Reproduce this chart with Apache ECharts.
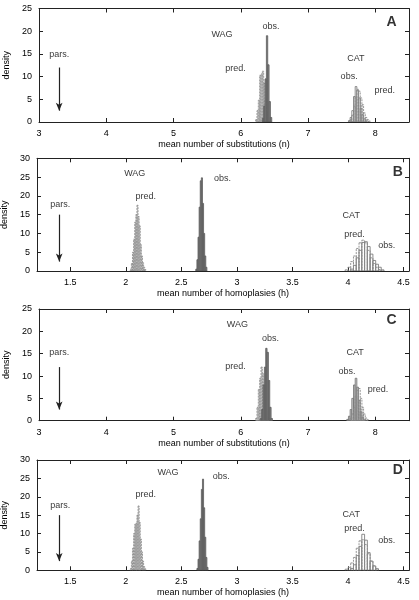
<!DOCTYPE html>
<html>
<head>
<meta charset="utf-8">
<script src="https://cdn.jsdelivr.net/npm/echarts@6/dist/echarts.min.js"></script>
<style>
html,body{margin:0;padding:0;background:#fff;}
#chart{width:419px;height:600px;}
</style>
</head>
<body>
<div id="chart"></div>
<script>
// ---------- Data ----------
var subsTicks = [3, 4, 5, 6, 7, 8];
var homTicks = [1.5, 2, 2.5, 3, 3.5, 4, 4.5];

// Panel A (substitutions)
var A_binW = 0.02, A_catBinW = 0.025;
var A_wagPred = [[6.22,0.5],[6.24,2.5],[6.26,4.8],[6.28,10.3],[6.30,10.6],[6.32,11.2],[6.34,8.5],[6.36,5],[6.38,2.2],[6.40,0.6]];
var A_wagObs = [[6.32,0.8],[6.34,3.5],[6.36,9.5],[6.38,19],[6.40,12.6],[6.42,4.5],[6.44,1]];
var A_catObs = [[7.600,0.3],[7.625,1],[7.650,2.5],[7.675,5.6],[7.700,7.8],[7.725,7],[7.750,5.3],[7.775,3],[7.800,1.6],[7.825,0.7],[7.850,0.2]];
var A_catPred = [[7.625,0.5],[7.650,1.5],[7.675,3.5],[7.700,5.5],[7.725,7.2],[7.750,6.8],[7.775,5.3],[7.800,3.8],[7.825,2],[7.850,1],[7.875,0.5],[7.900,0.2]];
var A_labels = [[5.72,19.2,'WAG'],[6.45,21,'obs.'],[5.92,11.8,'pred.'],[3.3,14.9,'pars.'],[7.71,14,'CAT'],[7.61,10,'obs.'],[8.14,6.9,'pred.']];
var A_pars = [3.3, 12, 2.5];

// Panel B (homoplasies)
var B_binW = 0.01, B_catBinW = 0.025;
var B_wagPred = [[2.04,0.5],[2.05,2],[2.06,5],[2.07,8.5],[2.08,13],[2.09,15],[2.10,17.5],[2.11,14.5],[2.12,12],[2.13,7],[2.14,4],[2.15,2.2],[2.16,1],[2.17,0.4]];
var B_wagObs = [[2.63,0.5],[2.64,3],[2.65,9],[2.66,17],[2.67,24],[2.68,24.8],[2.69,18],[2.70,10],[2.71,4],[2.72,1]];
var B_catPred = [[3.975,0.3],[4.000,1],[4.025,2.5],[4.050,4],[4.075,6],[4.100,7.5],[4.125,8.2],[4.150,7.5],[4.175,5.5],[4.200,3.5],[4.225,2],[4.250,1],[4.275,0.4]];
var B_catObs = [[4.025,0.5],[4.050,1.5],[4.075,3.5],[4.100,5.5],[4.125,7.6],[4.150,7.8],[4.175,6.5],[4.200,4.5],[4.225,2.8],[4.250,1.8],[4.275,1],[4.300,0.3]];
var B_labels = [[2.08,26,'WAG'],[2.87,24.7,'obs.'],[2.18,19.8,'pred.'],[1.41,17.6,'pars.'],[4.03,14.9,'CAT'],[4.06,9.8,'pred.'],[4.35,6.9,'obs.']];
var B_pars = [1.4, 15, 2.5];

// Panel C (substitutions)
var C_binW = 0.02, C_catBinW = 0.025;
var C_wagPred = [[6.22,0.5],[6.24,3],[6.26,7],[6.28,9.5],[6.30,12],[6.32,10.5],[6.34,8],[6.36,4.5],[6.38,2],[6.40,0.6]];
var C_wagObs = [[6.29,0.5],[6.31,2.5],[6.33,8],[6.35,12],[6.37,16.2],[6.39,15.3],[6.41,9],[6.43,3],[6.45,0.5]];
var C_catObs = [[7.575,0.3],[7.600,1],[7.625,2.5],[7.650,5],[7.675,8],[7.700,9.5],[7.725,7.5],[7.750,4.5],[7.775,2],[7.800,0.8],[7.825,0.2]];
var C_catPred = [[7.625,0.5],[7.650,1.5],[7.675,3],[7.700,5.5],[7.725,6.8],[7.750,7.2],[7.775,5],[7.800,3],[7.825,1.5],[7.850,0.6],[7.875,0.2]];
var C_labels = [[5.95,21.6,'WAG'],[6.44,18.3,'obs.'],[5.92,12.2,'pred.'],[3.3,15.3,'pars.'],[7.7,15.3,'CAT'],[7.58,11.1,'obs.'],[8.04,7,'pred.']];
var C_pars = [3.3, 12, 2.5];

// Panel D (homoplasies)
var D_binW = 0.01, D_catBinW = 0.025;
var D_wagPred = [[2.04,0.5],[2.05,2.5],[2.06,6],[2.07,10],[2.08,12.5],[2.09,12.8],[2.10,15],[2.11,17.5],[2.12,13],[2.13,8.5],[2.14,5],[2.15,2.5],[2.16,1],[2.17,0.4]];
var D_wagObs = [[2.64,0.5],[2.65,3],[2.66,8],[2.67,14],[2.68,22],[2.69,24.8],[2.70,17],[2.71,9],[2.72,3.5],[2.73,0.8]];
var D_catPred = [[3.975,0.3],[4.000,0.8],[4.025,2],[4.050,3.5],[4.075,6],[4.100,8],[4.125,8.3],[4.150,7],[4.175,4.5],[4.200,2.5],[4.225,1.2],[4.250,0.5]];
var D_catObs = [[4.025,0.5],[4.050,1.5],[4.075,4],[4.100,6.5],[4.125,9.8],[4.150,8.2],[4.175,4.8],[4.200,2.5],[4.225,1.2],[4.250,0.4]];
var D_labels = [[2.38,26.6,'WAG'],[2.86,25.5,'obs.'],[2.18,20.5,'pred.'],[1.41,17.6,'pars.'],[4.03,15.3,'CAT'],[4.06,11.4,'pred.'],[4.35,8.2,'obs.']];
var D_pars = [1.4, 15, 2.5];

var panelLetters = ['A','B','C','D'];

// ---------- Layout / styles ----------
var FONT = 'Liberation Sans, Arial, Helvetica, sans-serif';
var grids = [
  {left:39, right:10, top:8.5, height:113.5, outerBoundsMode:'none', containLabel:false},
  {left:37, right:10, top:158.3, height:112.7, outerBoundsMode:'none', containLabel:false},
  {left:39, right:10, top:309, height:111.7, outerBoundsMode:'none', containLabel:false},
  {left:37, right:10, top:460, height:110.3, outerBoundsMode:'none', containLabel:false}
];
var xCfg = [
  {min:3, max:8.5, ticks:subsTicks, name:'mean number of substitutions (n)'},
  {min:1.2, max:4.55, ticks:homTicks, name:'mean number of homoplasies (h)'},
  {min:3, max:8.5, ticks:subsTicks, name:'mean number of substitutions (n)'},
  {min:1.2, max:4.55, ticks:homTicks, name:'mean number of homoplasies (h)'}
];
var yMax = [25, 30, 25, 30];
var letterPos = [[8.24,22.1],[4.45,26.4],[8.24,22.5],[4.45,27.3]];

var STY = {
  wagPred: {fill:'rgba(195,195,195,0.9)', stroke:'#8a8a8a', lineWidth:0.8, lineDash:[2,1]},
  wagObs: {fill:'#858585', stroke:'#5a5a5a', lineWidth:0.8},
  catObsOpen: {fill:'rgba(255,255,255,0.6)', stroke:'#707070', lineWidth:0.8},
  catObsGray: {fill:'rgba(195,195,195,0.9)', stroke:'#707070', lineWidth:0.8},
  catPred: {fill:'rgba(255,255,255,0)', stroke:'#8a8a8a', lineWidth:0.9, lineDash:[2,1]}
};

function hist(panel, data, binW, style, z) {
  return {
    type: 'custom',
    xAxisIndex: panel*2, yAxisIndex: panel*2,
    data: data, z: z, clip: true, silent: true,
    renderItem: function (params, api) {
      var x0 = api.value(0), h = api.value(1);
      var p1 = api.coord([x0, h]);
      var p2 = api.coord([x0 + binW, 0]);
      return {type:'rect', shape:{x:p1[0], y:p1[1], width:p2[0]-p1[0], height:p2[1]-p1[1]}, style: style};
    }
  };
}

function textSeries(panel, labels, pars, letter, lpos) {
  var d = labels.map(function (l) { return {value:[l[0], l[1]], name:l[2]}; });
  d.push({value:[lpos[0], lpos[1]], name:letter, label:{fontSize:14, fontWeight:'bold'}});
  return {
    type: 'scatter', xAxisIndex: panel*2, yAxisIndex: panel*2,
    symbolSize: 0, silent: true, z: 10,
    data: d,
    label: {show:true, position:'inside', formatter: function (p) { return p.name; },
            color:'#000', fontSize:9, fontFamily:FONT},
    markLine: {
      silent: true, symbol: ['none','arrow'], symbolSize: [5,8],
      lineStyle: {color:'#222', width:1.2, type:'solid'},
      label: {show:false},
      data: [[{coord:[pars[0], pars[1]]}, {coord:[pars[0], pars[2]]}]]
    }
  };
}

var xAxes = [], yAxes = [], series = [];
for (var i = 0; i < 4; i++) {
  var xc = xCfg[i];
  xAxes.push({
    type:'value', gridIndex:i, min:xc.min, max:xc.max, position:'bottom',
    name: xc.name, nameLocation:'middle', nameGap:18,
    nameTextStyle:{fontSize:9, color:'#000', fontFamily:FONT},
    axisLine:{show:true, onZero:false, lineStyle:{color:'#222', width:1}},
    axisTick:{show:true, inside:true, length:4, customValues:xc.ticks, lineStyle:{color:'#222'}},
    axisLabel:{show:true, customValues:xc.ticks, fontSize:9, color:'#000', margin:7, fontFamily:FONT},
    splitLine:{show:false}
  });
  xAxes.push({
    type:'value', gridIndex:i, min:xc.min, max:xc.max, position:'top',
    axisLine:{show:true, onZero:false, lineStyle:{color:'#222', width:1}},
    axisTick:{show:true, inside:true, length:4, customValues:xc.ticks, lineStyle:{color:'#222'}},
    axisLabel:{show:false}, splitLine:{show:false}
  });
  yAxes.push({
    type:'value', gridIndex:i, min:0, max:yMax[i], interval:5, position:'left',
    name:'density', nameLocation:'middle', nameGap:23, nameRotate:90,
    nameTextStyle:{fontSize:9, color:'#000', fontFamily:FONT},
    axisLine:{show:true, onZero:false, lineStyle:{color:'#222', width:1}},
    axisTick:{show:true, inside:true, length:4, lineStyle:{color:'#222'}},
    axisLabel:{fontSize:9, color:'#000', margin:7, fontFamily:FONT},
    splitLine:{show:false}
  });
  yAxes.push({
    type:'value', gridIndex:i, min:0, max:yMax[i], interval:5, position:'right',
    axisLine:{show:true, onZero:false, lineStyle:{color:'#222', width:1}},
    axisTick:{show:true, inside:true, length:4, lineStyle:{color:'#222'}},
    axisLabel:{show:false}, splitLine:{show:false}
  });
}

// Panel A
series.push(hist(0, A_wagPred, A_binW, STY.wagPred, 2));
series.push(hist(0, A_wagObs, A_binW, STY.wagObs, 3));
series.push(hist(0, A_catObs, A_catBinW, STY.catObsOpen, 2));
series.push(hist(0, A_catPred, A_catBinW, STY.catPred, 3));
series.push(textSeries(0, A_labels, A_pars, panelLetters[0], letterPos[0]));
// Panel B
series.push(hist(1, B_wagPred, B_binW, STY.wagPred, 2));
series.push(hist(1, B_wagObs, B_binW, STY.wagObs, 3));
series.push(hist(1, B_catObs, B_catBinW, STY.catObsOpen, 2));
series.push(hist(1, B_catPred, B_catBinW, STY.catPred, 3));
series.push(textSeries(1, B_labels, B_pars, panelLetters[1], letterPos[1]));
// Panel C
series.push(hist(2, C_wagPred, C_binW, STY.wagPred, 2));
series.push(hist(2, C_wagObs, C_binW, STY.wagObs, 3));
series.push(hist(2, C_catObs, C_catBinW, STY.catObsGray, 2));
series.push(hist(2, C_catPred, C_catBinW, STY.catPred, 3));
series.push(textSeries(2, C_labels, C_pars, panelLetters[2], letterPos[2]));
// Panel D
series.push(hist(3, D_wagPred, D_binW, STY.wagPred, 2));
series.push(hist(3, D_wagObs, D_binW, STY.wagObs, 3));
series.push(hist(3, D_catObs, D_catBinW, STY.catObsOpen, 2));
series.push(hist(3, D_catPred, D_catBinW, STY.catPred, 3));
series.push(textSeries(3, D_labels, D_pars, panelLetters[3], letterPos[3]));

var chart = echarts.init(document.getElementById('chart'), null, {renderer:'canvas'});
chart.setOption({
  animation: false,
  backgroundColor: '#fff',
  textStyle: {fontFamily: FONT},
  grid: grids,
  xAxis: xAxes,
  yAxis: yAxes,
  series: series
});
</script>
</body>
</html>
